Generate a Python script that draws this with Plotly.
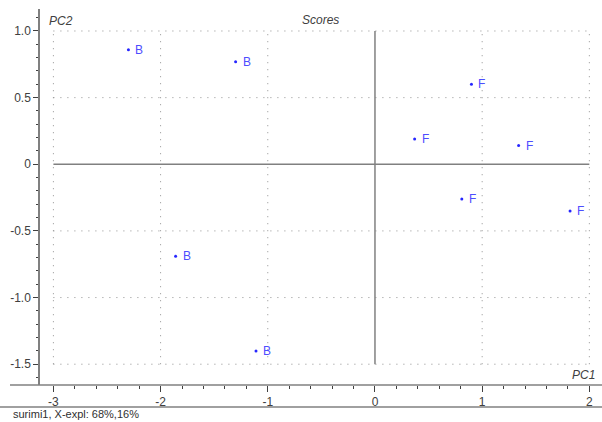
import plotly.graph_objects as go

# PCA scores: PC1 / PC2 for each sample, labelled by group
pc1 = [-2.30, -1.30, -1.86, -1.11, 0.90, 0.37, 1.34, 0.81, 1.82]
pc2 = [0.86, 0.77, -0.69, -1.40, 0.60, 0.19, 0.14, -0.26, -0.35]
groups = ["B", "B", "B", "B", "F", "F", "F", "F", "F"]

x_ticks = [-3, -2, -1, 0, 1, 2]
y_ticks = [1.0, 0.5, 0, -0.5, -1.0, -1.5]
y_tick_text = ["1.0", "0.5", "0", "-0.5", "-1.0", "-1.5"]

title = "Scores"
x_title = "PC1"
y_title = "PC2"
footer = "surimi1, X-expl: 68%,16%"

W, H = 602, 422
ML, MR, MT, MB = 40, 0, 9, 37
X_RANGE = [-3.125, 2.118]
Y_RANGE = [-1.656, 1.165]

AXIS_GRAY = "#808080"
TEXT_GRAY = "#404040"
FONT = "Liberation Sans, Arial, sans-serif"

fig = go.Figure()

fig.add_trace(go.Scatter(
    x=pc1, y=pc2, mode="markers", text=groups,
    marker=dict(size=3, color="#2626ff"),
    hoverinfo="x+y+text", showlegend=False,
    cliponaxis=False,
))

plot_w = W - ML - MR
plot_h = H - MT - MB


def px_to_paper_y(py):
    return 1 - (py - MT) / plot_h


def px_to_paper_x(px):
    return (px - ML) / plot_w


shapes = []
x_lo, x_hi = min(x_ticks), max(x_ticks)
y_lo, y_hi = min(y_ticks), max(y_ticks)

# dotted grid confined to the tick box
for xv in x_ticks:
    if xv == 0:
        continue
    shapes.append(dict(type="line", xref="x", yref="y", x0=xv, x1=xv, y0=y_lo, y1=y_hi,
                       line=dict(color="#909090", width=1, dash="1px,6px"), layer="below"))
for yv in y_ticks:
    if yv == 0:
        continue
    shapes.append(dict(type="line", xref="x", yref="y", x0=x_lo, x1=x_hi, y0=yv, y1=yv,
                       line=dict(color="#909090", width=1, dash="1px,6px"), layer="below"))

# solid origin cross
shapes.append(dict(type="line", xref="x", yref="y", x0=0, x1=0, y0=y_lo, y1=y_hi,
                   line=dict(color=AXIS_GRAY, width=1.5), layer="below"))
shapes.append(dict(type="line", xref="x", yref="y", x0=x_lo, x1=x_hi, y0=0, y1=0,
                   line=dict(color=AXIS_GRAY, width=1.5), layer="below"))

# bottom axis line runs a little past the left axis
shapes.append(dict(type="line", xref="paper", yref="paper", x0=px_to_paper_x(10), x1=1,
                   y0=0, y1=0, line=dict(color=AXIS_GRAY, width=1.5)))
# separator above the footer
shapes.append(dict(type="line", xref="paper", yref="paper", x0=px_to_paper_x(0), x1=px_to_paper_x(W),
                   y0=px_to_paper_y(407), y1=px_to_paper_y(407),
                   line=dict(color=AXIS_GRAY, width=1.5)))

annotations = [
    dict(text=f"<i>{y_title}</i>", xref="paper", yref="paper", x=px_to_paper_x(47), y=px_to_paper_y(21),
         xanchor="left", yanchor="middle", showarrow=False,
         font=dict(family=FONT, size=12, color=TEXT_GRAY)),
    dict(text=f"<i>{title}</i>", xref="paper", yref="paper", x=px_to_paper_x(320), y=px_to_paper_y(20),
         xanchor="center", yanchor="middle", showarrow=False,
         font=dict(family=FONT, size=12, color=TEXT_GRAY)),
    dict(text=f"<i>{x_title}</i>", xref="paper", yref="paper", x=px_to_paper_x(597), y=px_to_paper_y(375),
         xanchor="right", yanchor="middle", showarrow=False,
         font=dict(family=FONT, size=12, color=TEXT_GRAY)),
    dict(text=footer, xref="paper", yref="paper", x=px_to_paper_x(11), y=px_to_paper_y(414),
         xanchor="left", yanchor="middle", showarrow=False,
         font=dict(family=FONT, size=11, color="#303030")),
]

# group letters sit just to the right of each score point
for xv, yv, g in zip(pc1, pc2, groups):
    annotations.append(dict(text=g, x=xv, y=yv, xref="x", yref="y",
                            xanchor="left", yanchor="middle", xshift=5, yshift=0,
                            showarrow=False,
                            font=dict(family=FONT, size=12, color="#4d4dff")))

fig.update_layout(
    width=W, height=H,
    margin=dict(l=ML, r=MR, t=MT, b=MB, pad=0),
    paper_bgcolor="white", plot_bgcolor="white",
    font=dict(family=FONT, size=11, color=TEXT_GRAY),
    shapes=shapes, annotations=annotations,
    xaxis=dict(
        range=X_RANGE, tickmode="array", tickvals=x_ticks, ticktext=[str(v) for v in x_ticks],
        showgrid=False, zeroline=False, showline=False,
        ticks="outside", ticklen=6, tickwidth=1, tickcolor=TEXT_GRAY,
        minor=dict(dtick=0.2, tick0=0, ticks="outside", ticklen=3, tickwidth=1,
                   tickcolor=TEXT_GRAY, showgrid=False),
        tickfont=dict(family=FONT, size=12, color=TEXT_GRAY),
    ),
    yaxis=dict(
        range=Y_RANGE, tickmode="array", tickvals=y_ticks, ticktext=y_tick_text,
        showgrid=False, zeroline=False, showline=True, linecolor=AXIS_GRAY, linewidth=1.5,
        ticks="outside", ticklen=5, tickwidth=1, tickcolor=TEXT_GRAY,
        minor=dict(dtick=0.1, tick0=0, ticks="outside", ticklen=2, tickwidth=1,
                   tickcolor=TEXT_GRAY, showgrid=False),
        tickfont=dict(family=FONT, size=12, color=TEXT_GRAY),
    ),
)

fig.write_html("out.html")
